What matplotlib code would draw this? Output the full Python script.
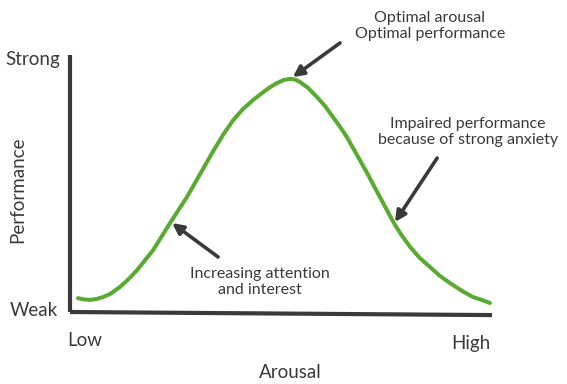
import matplotlib
matplotlib.use("Agg")
import matplotlib.pyplot as plt

# Yerkes-Dodson curve (arousal 0-100, performance 0-100)
arousal = [1.9, 3.3, 4.7, 6.4, 7.8, 9.5, 11.8, 13.7, 15.9, 17.8, 19.7, 23.7, 27.7,
           30.8, 33.9, 36.3, 38.6, 41.0, 43.4, 45.5, 47.4, 49.3, 50.7, 52.1, 53.3,
           54.5, 56.4, 58.5, 60.4, 62.3, 64.0, 65.6, 68.0, 70.4, 72.3, 74.2, 75.6,
           77.0, 78.7, 80.6, 82.9, 85.3, 87.7, 90.0, 92.9, 95.5, 97.6, 99.5]
performance = [5.4, 4.9, 4.7, 5.1, 5.8, 7.0, 9.7, 12.5, 16.3, 20.2, 24.1, 34.6, 44.7,
               53.6, 62.5, 69.0, 74.5, 79.0, 82.5, 85.2, 87.5, 89.3, 90.3, 90.7, 90.5,
               89.5, 87.2, 83.7, 80.2, 75.9, 72.0, 68.1, 61.1, 54.1, 48.2, 42.4, 38.1,
               33.9, 29.6, 25.3, 21.0, 17.5, 14.0, 11.3, 8.2, 5.8, 4.7, 3.5]

notes = ["Optimal arousal\nOptimal performance",
         "Impaired performance\nbecause of strong anxiety",
         "Increasing attention\nand interest"]
note_points = [(52.8, 91.4), (77.0, 35.0), (24.2, 34.6)]
arrow_tails = [(64.0, 104.7), (87.0, 59.9), (35.1, 21.4)]
note_pos = [(85.3, 111.3), (94.3, 70.0), (45.0, 11.7)]

plt.rcParams['font.family'] = ['Lato', 'DejaVu Sans']
dark = "#3a3a3a"
green = "#5aaa32"

fig = plt.figure(figsize=(5.67, 3.84), dpi=100)
W, H = 567, 384
ax = fig.add_axes([70 / W, 1 - 312 / H, 422 / W, 257 / H])
ax.set_xlim(0, 100)
ax.set_ylim(0, 100)
ax.axis("off")

# axis lines
ax.plot([0, 0], [0, 100], color=dark, lw=3, clip_on=False, solid_capstyle="butt")
ax.plot([0, 100], [0, -1.2], color=dark, lw=3, clip_on=False, solid_capstyle="butt")

ax.plot(arousal, performance, color=green, lw=2.9, clip_on=False,
        solid_capstyle="round", solid_joinstyle="round")

for txt, pt, tail, pos in zip(notes, note_points, arrow_tails, note_pos):
    ax.annotate("", xy=pt, xytext=tail, annotation_clip=False,
                arrowprops=dict(arrowstyle="-|>", color=dark, lw=2.6,
                                mutation_scale=16, shrinkA=0, shrinkB=0))
    ax.text(pos[0], pos[1], txt, ha="center", va="center", fontsize=11.5,
            color=dark, linespacing=1.25, clip_on=False)

def label(x, y, s, **kw):
    fig.text(x / W, 1 - y / H, s, ha="center", va="center", fontsize=13.5,
             color=dark, **kw)

label(33, 60, "Strong")
label(34, 310, "Weak")
label(85, 340, "Low")
label(471, 343, "High")
label(290, 372, "Arousal")
label(18, 190, "Performance", rotation=90)

fig.savefig("out.png", dpi=100)
